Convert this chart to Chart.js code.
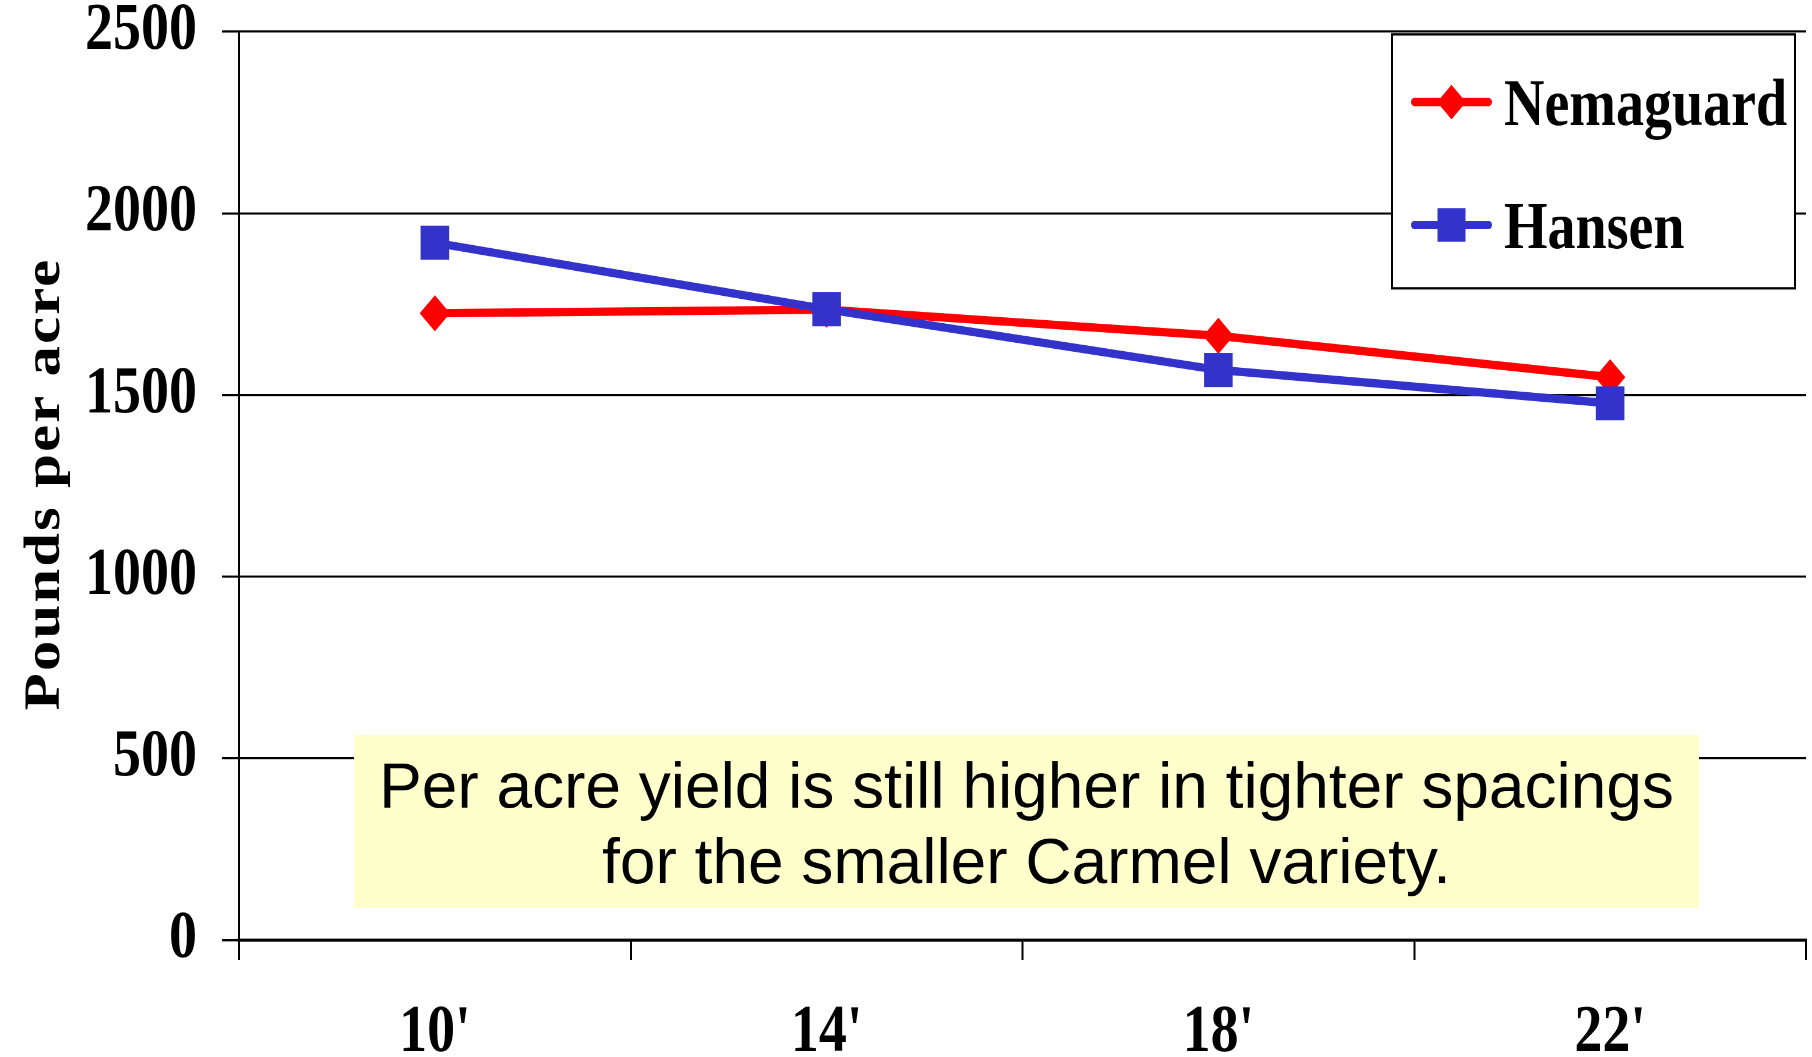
<!DOCTYPE html>
<html>
<head>
<meta charset="utf-8">
<script src="https://cdn.jsdelivr.net/npm/chart.js@4/dist/chart.umd.min.js"></script>
<style>
  html, body { margin: 0; padding: 0; background: #fff; overflow: hidden; }
  #wrap { position: absolute; left: 0; top: 0; width: 1812px; height: 888px; transform-origin: 0 0; }
</style>
</head>
<body>
<div id="wrap"><canvas id="c" width="1812" height="888"></canvas></div>
<script>
// ---- data ----
const categories = ["10'", "14'", "18'", "22'"];
const nemaguard = [1725, 1735, 1663, 1549];
const hansen = [1919, 1736, 1569, 1477];
const yTickValues = [0, 500, 1000, 1500, 2000, 2500];
const yTickLabels = ["0", "500", "1000", "1500", "2000", "2500"];
const seriesNames = ["Nemaguard", "Hansen"];
const yTitle = "Pounds per acre";
const noteLines = ["Per acre yield is still higher in tighter spacings", "for the smaller Carmel variety."];

// ---- layout (the original chart is stretched vertically) ----
const PAGE_H = 1057, CANVAS_H = 888;
const S = PAGE_H / CANVAS_H;
document.getElementById('wrap').style.transform = 'scaleY(' + S + ')';

const SERIF = "'Liberation Serif', 'Times New Roman', serif";
const SANS = "'Liberation Sans', Arial, sans-serif";
const RED = '#FF0000', BLUE = '#3333CC';

function drawMarker(ctx, style, x, y, color) {
  ctx.save();
  ctx.fillStyle = color;
  ctx.beginPath();
  if (style === 'rectRot') {
    const r = 14.5;
    ctx.moveTo(x - r, y); ctx.lineTo(x, y - r); ctx.lineTo(x + r, y); ctx.lineTo(x, y + r);
  } else {
    const h = 14;
    ctx.rect(x - h, y - h, 2 * h, 2 * h);
  }
  ctx.closePath();
  ctx.fill();
  ctx.restore();
}

const extrasPlugin = {
  id: 'extras',
  afterDraw(chart) {
    const ctx = chart.ctx;
    // --- annotation box (unstretched, page coordinates) ---
    ctx.save();
    ctx.scale(1, 1 / S);
    ctx.fillStyle = '#FFFFCC';
    ctx.fillRect(354, 735, 1699 - 354, 908 - 735);
    ctx.fillStyle = '#000';
    ctx.font = '64px ' + SANS;
    ctx.textAlign = 'center';
    ctx.textBaseline = 'alphabetic';
    ctx.fillText(noteLines[0], 1026.5, 807.5);
    ctx.fillText(noteLines[1], 1026.5, 883.5);
    ctx.restore();

    // --- y axis title ---
    ctx.save();
    ctx.translate(46, 484 / S);
    ctx.rotate(-Math.PI / 2);
    ctx.font = 'bold 51px ' + SERIF;
    ctx.fillStyle = '#000';
    ctx.textAlign = 'center';
    ctx.textBaseline = 'middle';
    try { ctx.letterSpacing = '1.8px'; } catch (e) {}
    ctx.fillText(yTitle, 0, 0);
    ctx.restore();

    // --- legend ---
    ctx.save();
    const bx0 = 1392, bx1 = 1795, by0 = 34.3 / S, by1 = 288.3 / S;
    ctx.fillStyle = '#fff';
    ctx.fillRect(bx0, by0, bx1 - bx0, by1 - by0);
    ctx.strokeStyle = '#000';
    ctx.lineWidth = 2;
    ctx.strokeRect(bx0, by0, bx1 - bx0, by1 - by0);
    const rowsY = [102 / S, 225 / S];
    chart.data.datasets.forEach((ds, i) => {
      const y = rowsY[i];
      ctx.strokeStyle = ds.borderColor;
      ctx.lineWidth = 7;
      ctx.lineCap = 'round';
      ctx.beginPath();
      ctx.moveTo(1414.5, y); ctx.lineTo(1488.5, y);
      ctx.stroke();
      drawMarker(ctx, ds.pointStyle, 1451.5, y, ds.borderColor);
      ctx.fillStyle = '#000';
      ctx.font = 'bold 56px ' + SERIF;
      ctx.textAlign = 'left';
      ctx.textBaseline = 'middle';
      ctx.fillText(ds.label, 1504, y + 5);
    });
    ctx.restore();
  }
};

new Chart(document.getElementById('c'), {
  type: 'line',
  data: {
    labels: categories,
    datasets: [
      {
        label: seriesNames[0], data: nemaguard, order: 1,
        borderColor: RED, backgroundColor: RED, borderWidth: 7,
        pointStyle: 'rectRot', pointRadius: 14.5, pointBorderWidth: 1,
        pointBackgroundColor: RED, pointBorderColor: RED, tension: 0
      },
      {
        label: seriesNames[1], data: hansen, order: 0,
        borderColor: BLUE, backgroundColor: BLUE, borderWidth: 7,
        pointStyle: 'rect', pointRadius: 19.5, pointBorderWidth: 1,
        pointBackgroundColor: BLUE, pointBorderColor: BLUE, tension: 0
      }
    ]
  },
  options: {
    responsive: false,
    devicePixelRatio: 2,
    animation: false,
    events: [],
    layout: { autoPadding: false, padding: { top: 31.7 / S, right: 6, bottom: 0, left: 0 } },
    plugins: { legend: { display: false }, tooltip: { enabled: false }, title: { display: false } },
    scales: {
      x: {
        offset: true,
        grid: { display: true, offset: true, drawOnChartArea: false, drawTicks: true, tickLength: 20 / S, color: '#000', lineWidth: 2 },
        border: { display: true, color: '#000', width: 2.6 },
        ticks: { color: '#000', font: { family: SERIF, size: 56, weight: 'bold' }, padding: 28.5, maxRotation: 0, autoSkip: false },
        afterFit(scale) { scale.height = CANVAS_H - 940 / S; scale.paddingLeft = 0; scale.paddingRight = 0; }
      },
      y: {
        min: yTickValues[0], max: yTickValues[yTickValues.length - 1],
        afterBuildTicks(scale) { scale.ticks = yTickValues.map(v => ({ value: v })); },
        grid: { display: true, drawOnChartArea: true, drawTicks: true, tickLength: 17, color: '#000', lineWidth: 1.8 },
        border: { display: true, color: '#000', width: 2 },
        ticks: {
          color: '#000', font: { family: SERIF, size: 56, weight: 'bold' }, padding: 25,
          callback: (value) => yTickLabels[yTickValues.indexOf(value)]
        },
        afterFit(scale) { scale.width = 239; scale.paddingTop = 0; scale.paddingBottom = 0; }
      }
    }
  },
  plugins: [extrasPlugin]
});
</script>
</body>
</html>
